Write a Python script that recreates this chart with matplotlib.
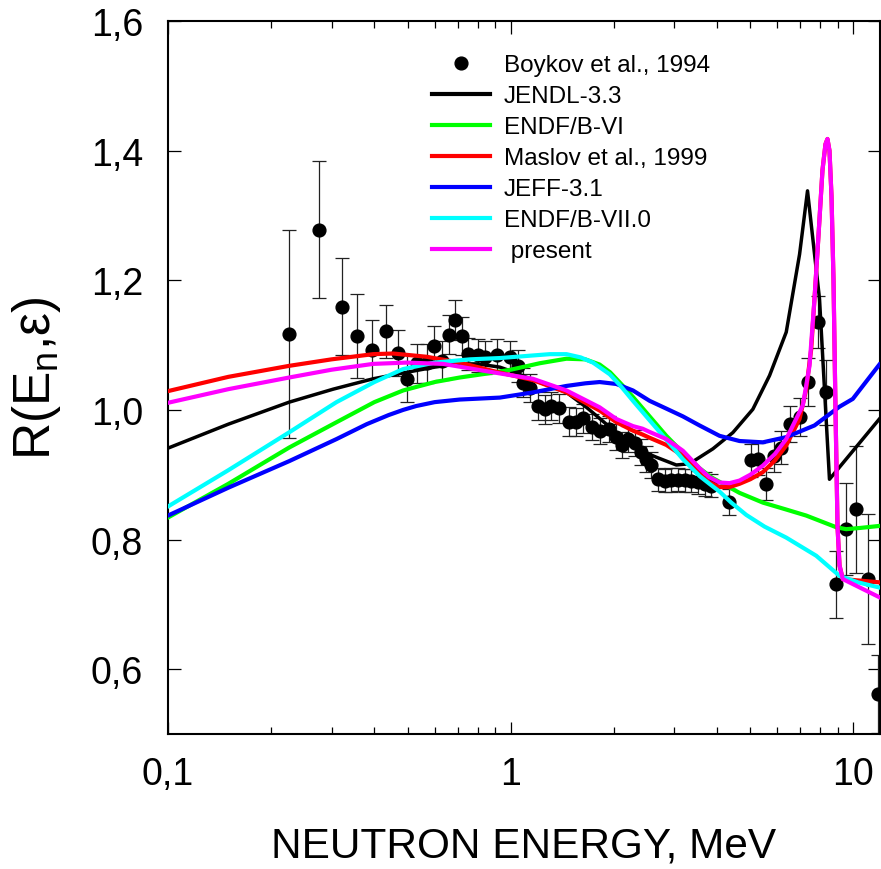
import numpy as np
import matplotlib
matplotlib.use("Agg")
import matplotlib.pyplot as plt
from matplotlib.lines import Line2D
from matplotlib.ticker import FixedLocator, FuncFormatter, LogLocator, NullFormatter

plt.rcParams['font.family'] = ['Liberation Sans', 'DejaVu Sans']
plt.rcParams['mathtext.fontset'] = 'custom'
plt.rcParams['mathtext.rm'] = 'Liberation Sans'

# ---- Boykov et al., 1994 (experimental) ----
exp_E = [0.2258, 0.2762, 0.3209, 0.3563, 0.3925, 0.4312, 0.4674, 0.4965, 0.5311, 0.5679,
         0.5964, 0.6281, 0.6595, 0.6866, 0.7184, 0.7509, 0.8031, 0.8438, 0.9146, 0.9933,
         1.048, 1.086, 1.136, 1.201, 1.256, 1.314, 1.383, 1.479, 1.547, 1.625,
         1.731, 1.826, 1.934, 2.033, 2.117, 2.198, 2.299, 2.404, 2.486, 2.571,
         2.688, 2.812, 2.941, 3.074, 3.216, 3.364, 3.516, 3.678, 3.847, 4.321,
         5.031, 5.26, 5.567, 5.856, 6.154, 6.508, 6.961, 7.358, 7.869, 8.326,
         8.906, 9.522, 10.18, 11.01, 11.77]
exp_R = [1.117, 1.278, 1.159, 1.1145, 1.093, 1.121, 1.088, 1.048, 1.072, 1.072,
         1.099, 1.076, 1.116, 1.139, 1.114, 1.086, 1.084, 1.081, 1.085, 1.081,
         1.068, 1.042, 1.034, 1.006, 1.001, 1.006, 1.0025, 0.982, 0.981, 0.987,
         0.973, 0.9675, 0.9706, 0.958, 0.946, 0.955, 0.949, 0.935, 0.924, 0.915,
         0.893, 0.891, 0.892, 0.8925, 0.8914, 0.891, 0.8884, 0.8857, 0.883, 0.858,
         0.922, 0.924, 0.886, 0.929, 0.942, 0.978, 0.989, 1.043, 1.135, 1.027,
         0.731, 0.816, 0.847, 0.739, 0.562]
exp_err = [0.160, 0.106, 0.075, 0.065, 0.045, 0.041, 0.036, 0.036, 0.030, 0.030,
           0.030, 0.030, 0.030, 0.031, 0.030, 0.025, 0.025, 0.025, 0.025, 0.025,
           0.025, 0.022, 0.022, 0.022, 0.022, 0.022, 0.022, 0.022, 0.022, 0.022,
           0.020, 0.020, 0.020, 0.020, 0.020, 0.020, 0.020, 0.020, 0.020, 0.020,
           0.018, 0.018, 0.018, 0.018, 0.018, 0.018, 0.018, 0.018, 0.018, 0.020,
           0.025, 0.025, 0.025, 0.025, 0.025, 0.028, 0.030, 0.037, 0.040, 0.050,
           0.052, 0.071, 0.098, 0.100, 0.060]

# ---- JENDL-3.3 ----
jendl_E = [0.1, 0.15, 0.2258, 0.3033, 0.3967, 0.4965, 0.6, 0.7, 0.8, 0.929, 1.05, 1.161,
           1.3, 1.454, 1.663, 1.901, 2.1, 2.273, 2.45, 2.66, 3.042, 3.325, 3.889, 4.447,
           5.086, 5.69, 6.365, 6.961, 7.343, 7.96, 8.51, 11.9]
jendl_R = [0.941, 0.978, 1.012, 1.032, 1.048, 1.058, 1.066, 1.071, 1.071, 1.066, 1.056,
           1.046, 1.037, 1.027, 1.004, 0.978, 0.959, 0.945, 0.935, 0.927, 0.915, 0.917,
           0.940, 0.965, 1.001, 1.053, 1.120, 1.240, 1.338, 1.171, 0.893, 0.986]

# ---- ENDF/B-VI ----
endf6_E = [0.1, 0.15, 0.2258, 0.3102, 0.4, 0.4853, 0.6, 0.71, 0.85, 1.0, 1.215, 1.454,
           1.65, 1.817, 1.95, 2.1, 2.273, 2.542, 2.844, 3.179, 3.556, 3.85, 4.067, 4.4,
           4.651, 5.44, 6.3, 7.28, 8.906, 9.522, 10.5, 11.9]
endf6_R = [0.834, 0.886, 0.942, 0.981, 1.012, 1.030, 1.043, 1.050, 1.056, 1.062, 1.072,
           1.079, 1.078, 1.070, 1.058, 1.040, 1.020, 0.990, 0.960, 0.934, 0.910, 0.896,
           0.889, 0.879, 0.872, 0.857, 0.847, 0.837, 0.819, 0.816, 0.818, 0.821]

# ---- Maslov et al., 1999 ----
maslov_E = [0.1, 0.15, 0.2258, 0.3, 0.3967, 0.4537, 0.5679, 0.71, 0.8879, 1.161, 1.454,
            1.817, 2.033, 2.273, 2.425, 2.542, 2.844, 3.179, 3.556, 3.8, 4.067, 4.35,
            4.651, 5.0, 5.44, 5.9, 6.365, 6.961, 7.28, 7.529, 7.695, 7.907, 8.12, 8.285,
            8.396, 8.511, 8.627, 8.744, 8.862, 8.983, 9.105, 9.307, 11.9]
maslov_R = [1.029, 1.051, 1.068, 1.078, 1.086, 1.087, 1.082, 1.073, 1.060, 1.046, 1.027,
            0.999, 0.981, 0.968, 0.962, 0.957, 0.946, 0.929, 0.902, 0.888, 0.881, 0.881,
            0.886, 0.893, 0.904, 0.922, 0.945, 0.986, 1.032, 1.094, 1.171, 1.27, 1.37,
            1.41, 1.418, 1.40, 1.33, 1.20, 1.0, 0.82, 0.76, 0.739, 0.734]

# ---- JEFF-3.1 ----
jeff_E = [0.1, 0.15, 0.2258, 0.3102, 0.38, 0.44, 0.4853, 0.53, 0.6, 0.71, 0.929, 1.161,
          1.454, 1.65, 1.817, 2.033, 2.273, 2.542, 2.844, 3.179, 3.556, 4.067, 4.651,
          5.44, 6.365, 7.695, 9.105, 9.954, 11.9]
jeff_R = [0.837, 0.880, 0.921, 0.955, 0.978, 0.992, 1.000, 1.006, 1.012, 1.016, 1.019,
          1.027, 1.037, 1.041, 1.043, 1.040, 1.030, 1.014, 1.002, 0.990, 0.976, 0.960,
          0.952, 0.950, 0.958, 0.976, 1.005, 1.017, 1.070]

# ---- ENDF/B-VII.0 ----
endf7_E = [0.1, 0.15, 0.2258, 0.3102, 0.4, 0.4853, 0.6, 0.7596, 0.929, 1.161, 1.3, 1.454,
           1.6, 1.738, 1.944, 2.1, 2.273, 2.542, 2.844, 3.179, 3.556, 3.8, 4.067, 4.4,
           4.866, 5.5, 6.365, 7.786, 9.105, 10.3, 11.9]
endf7_R = [0.851, 0.907, 0.9655, 1.012, 1.043, 1.063, 1.073, 1.078, 1.080, 1.084, 1.086,
           1.086, 1.081, 1.073, 1.055, 1.036, 1.014, 0.984, 0.954, 0.924, 0.898, 0.886,
           0.874, 0.857, 0.838, 0.820, 0.803, 0.775, 0.744, 0.734, 0.726]

# ---- present ----
present_E = [0.1, 0.15, 0.2258, 0.3, 0.3967, 0.4965, 0.6348, 0.8879, 1.161, 1.454, 1.817,
             2.033, 2.273, 2.425, 2.542, 2.844, 3.179, 3.556, 3.8, 4.067, 4.35, 4.651,
             5.0, 5.44, 5.9, 6.365, 7.116, 7.443, 7.695, 7.907, 8.12, 8.285, 8.396, 8.511,
             8.627, 8.744, 8.862, 8.983, 9.105, 9.307, 11.9]
present_R = [1.011, 1.032, 1.050, 1.062, 1.071, 1.073, 1.071, 1.058, 1.048, 1.030, 1.004,
             0.986, 0.975, 0.971, 0.966, 0.955, 0.937, 0.910, 0.896, 0.888, 0.887, 0.891,
             0.900, 0.914, 0.932, 0.955, 1.007, 1.068, 1.171, 1.27, 1.37, 1.41, 1.418,
             1.40, 1.33, 1.20, 1.0, 0.82, 0.76, 0.739, 0.711]

labels = ['Boykov et al., 1994', 'JENDL-3.3', 'ENDF/B-VI', 'Maslov et al., 1999',
          'JEFF-3.1', 'ENDF/B-VII.0', ' present']
colors = ['black', 'black', '#00ff00', '#ff0000', '#0000ff', '#00ffff', '#ff00ff']

W, H = 881, 870
fig = plt.figure(figsize=(W / 100, H / 100), dpi=100)
ax = fig.add_axes([168 / W, (H - 735) / H, 712 / W, 713 / H])

ax.errorbar(exp_E, exp_R, yerr=exp_err, fmt='o', color='black', ms=9.2,
            ecolor='#222222', elinewidth=0.9, capsize=5, capthick=0.9, zorder=2)
series = [(jendl_E, jendl_R, 2.5), (endf6_E, endf6_R, 3.0), (maslov_E, maslov_R, 3.0),
          (jeff_E, jeff_R, 3.0), (endf7_E, endf7_R, 3.0), (present_E, present_R, 3.0)]
for (e, r, lw), c in zip(series, colors[1:]):
    ax.plot(e, r, color=c, lw=lw, zorder=3, solid_joinstyle='round')

ax.set_xscale('log')
ax.set_xlim(0.1, 11.95)
ax.set_ylim(0.5, 1.6)

ax.xaxis.set_major_locator(FixedLocator([0.1, 1, 10]))
ax.xaxis.set_minor_locator(LogLocator(base=10, subs=np.arange(2, 10)))
ax.xaxis.set_minor_formatter(NullFormatter())
ax.xaxis.set_major_formatter(FuncFormatter(lambda v, p: {0.1: '0,1', 1: '1', 10: '10'}.get(round(v, 1), '')))
ax.yaxis.set_major_locator(FixedLocator([0.6, 0.8, 1.0, 1.2, 1.4, 1.6]))
ax.yaxis.set_major_formatter(FuncFormatter(lambda v, p: f'{v:.1f}'.replace('.', ',')))

ax.tick_params(which='both', direction='in', top=True, right=True, width=0.9)
ax.tick_params(which='major', length=9, labelsize=27)
ax.tick_params(which='minor', length=5)
ax.tick_params(axis='y', pad=18)
ax.tick_params(axis='x', pad=16)
for s in ax.spines.values():
    s.set_linewidth(1.5)

ax.set_xlabel('NEUTRON ENERGY, MeV', fontsize=30.5, labelpad=24)
ax.set_ylabel('R(E$_\\mathregular{n}$,ε)', fontsize=37, labelpad=20)

handles = [Line2D([], [], marker='o', ls='', color='black', ms=9.2)]
handles += [Line2D([], [], color=c, lw=3) for c in colors[1:]]
ax.legend(handles, labels, loc='upper left', bbox_to_anchor=(432 / W, (H - 55) / H),
          bbox_transform=fig.transFigure, frameon=False, fontsize=17.5,
          handlelength=2.4, handletextpad=0.55, labelspacing=0.37,
          borderpad=0, borderaxespad=0)

fig.savefig('out.png', dpi=100)
